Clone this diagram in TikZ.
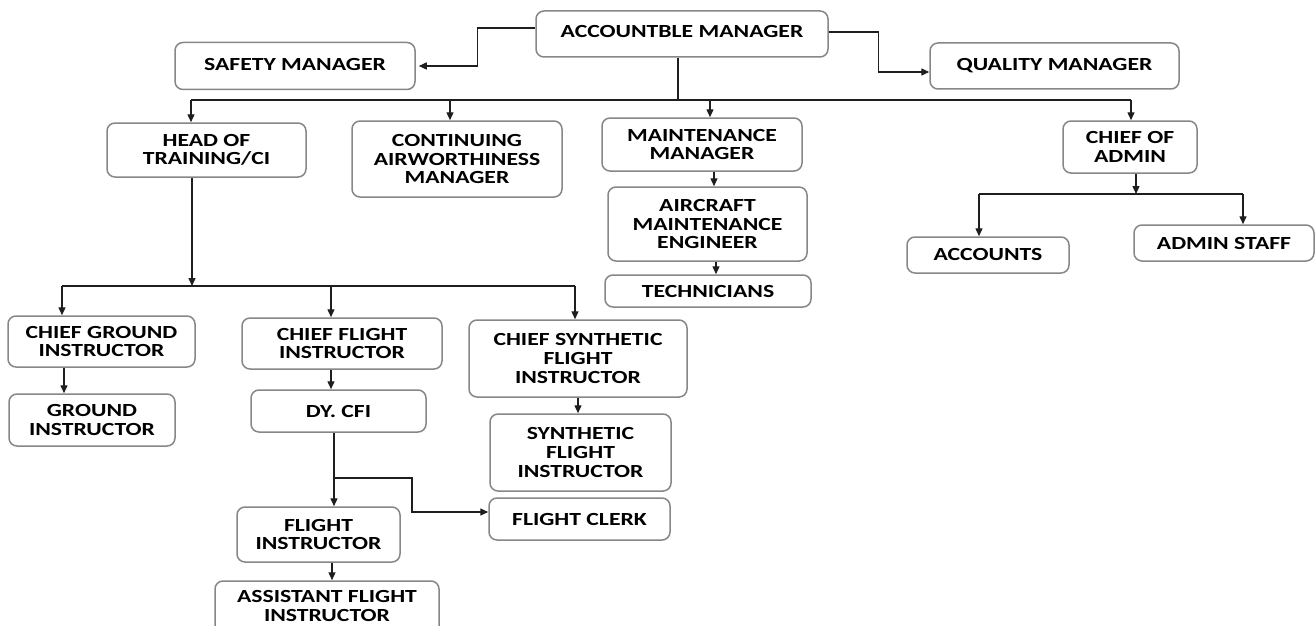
\documentclass[tikz,border=0pt]{standalone}
\usepackage{fontspec}
\newfontfamily\bfont{Carlito}[FakeStretch=1.28]
\usetikzlibrary{arrows.meta}
\definecolor{boxgray}{RGB}{135,135,135}
\definecolor{linecol}{RGB}{30,30,30}
\tikzset{
  box/.style={draw=boxgray, line width=1.5pt, rounded corners=8pt, fill=white,
    align=center, inner sep=0pt,
    font=\bfont\bfseries\fontsize{18.5}{18.7}\selectfont},
  arr/.style={draw=linecol, line width=1.4pt, -{Triangle[length=8pt,width=7pt]}},
  ln/.style={draw=linecol, line width=1.4pt},
}
\begin{document}
\begin{tikzpicture}[x=1pt,y=-1pt]
\useasboundingbox (0,0) rectangle (1315,626);
\clip (0,0) rectangle (1315,626);
\fill[white] (0,0) rectangle (1315,626);

% top level
\node[box, minimum width=292pt, minimum height=46pt] (acc) at (682,34) {\raisebox{5pt}{ACCOUNTBLE MANAGER}};
\node[box, minimum width=240pt, minimum height=47pt] (saf) at (295,66) {\raisebox{3pt}{SAFETY MANAGER}};
\node[box, minimum width=249pt, minimum height=46pt] (qua) at (1054.5,66) {\raisebox{2pt}{QUALITY MANAGER}};

% second level
\node[box, minimum width=199pt, minimum height=54pt] (hot) at (206.5,150) {HEAD OF\\TRAINING/CI};
\node[box, minimum width=210pt, minimum height=76pt] (caw) at (457,159) {CONTINUING\\AIRWORTHINESS\\MANAGER};
\node[box, minimum width=200pt, minimum height=53pt] (mm) at (702,144.5) {MAINTENANCE\\MANAGER};
\node[box, minimum width=199pt, minimum height=74pt] (ame) at (707.5,224) {AIRCRAFT\\MAINTENANCE\\ENGINEER};
\node[box, minimum width=206pt, minimum height=32pt] (tech) at (708,291) {TECHNICIANS};
\node[box, minimum width=134pt, minimum height=52pt] (coa) at (1130,147) {CHIEF OF\\ADMIN};
\node[box, minimum width=162pt, minimum height=36pt] (accs) at (988,255) {ACCOUNTS};
\node[box, minimum width=180pt, minimum height=36pt] (ads) at (1224,243) {ADMIN STAFF};

% training branch
\node[box, minimum width=187pt, minimum height=51pt] (cgi) at (101.5,341.5) {CHIEF GROUND\\INSTRUCTOR};
\node[box, minimum width=166pt, minimum height=52pt] (gi) at (92,420) {GROUND\\INSTRUCTOR};
\node[box, minimum width=200pt, minimum height=51pt] (cfi) at (342,343.5) {CHIEF FLIGHT\\INSTRUCTOR};
\node[box, minimum width=175pt, minimum height=42pt] (dy) at (338.5,411) {DY. CFI};
\node[box, minimum width=218pt, minimum height=77pt] (csfi) at (578,358.5) {CHIEF SYNTHETIC\\FLIGHT\\INSTRUCTOR};
\node[box, minimum width=181pt, minimum height=77pt] (sfi) at (580.5,452.5) {SYNTHETIC\\FLIGHT\\INSTRUCTOR};
\node[box, minimum width=181pt, minimum height=42pt] (fc) at (579.5,519) {FLIGHT CLERK};
\node[box, minimum width=163pt, minimum height=55pt] (fi) at (318.5,534.5) {FLIGHT\\INSTRUCTOR};
\node[box, minimum width=224pt, minimum height=64pt, text depth=14pt] (afi) at (327,613) {ASSISTANT FLIGHT\\INSTRUCTOR};

% coordinates for buses
\coordinate (top) at (678,100);
\coordinate (d1) at (191,100);
\coordinate (d2) at (450,100);
\coordinate (d3) at (710,100);
\coordinate (d4) at (1131,100);
\coordinate (h2) at (192,286);
\coordinate (e1) at (62,286);
\coordinate (e2) at (331,286);
\coordinate (e3) at (575,286);
\coordinate (c1) at (1136,194);
\coordinate (f1) at (979,194);
\coordinate (f2) at (1243,194);
\coordinate (j1) at (334,478);

% top connectors
\draw[arr, shorten >=3pt] ([yshift=6pt]acc.west) -- ++(-58,0) |- (saf.east);
\draw[arr] ([yshift=2pt]acc.east) -- ++(50,0) |- ([yshift=-6pt]qua.west);
\draw[ln] (acc.south -| top) -- (top);
\draw[ln] (d1) -- (d4);
\draw[arr] (d1) -- (d1 |- hot.north);
\draw[arr] (d2) -- (d2 |- caw.north);
\draw[arr] (d3) -- (d3 |- mm.north);
\draw[arr] (d4) -- (d4 |- coa.north);

% maintenance chain
\draw[arr] (mm.south -| 714,0) -- (ame.north -| 714,0);
\draw[arr] (ame.south -| 716,0) -- (tech.north -| 716,0);

% admin
\draw[arr] (coa.south -| c1) -- (c1);
\draw[ln] (f1) -- (f2);
\draw[arr] (f1) -- (f1 |- accs.north);
\draw[arr] (f2) -- (f2 |- ads.north);

% training
\draw[arr] (hot.south -| h2) -- (h2);
\draw[ln] (e1) -- (e3);
\draw[arr] (e1) -- (e1 |- cgi.north);
\draw[arr] (e2) -- (e2 |- cfi.north);
\draw[arr] (e3) -- (e3 |- csfi.north);
\draw[arr] (cgi.south -| 64,0) -- (gi.north -| 64,0);
\draw[arr] (cfi.south -| 331,0) -- (dy.north -| 331,0);
\draw[arr] (csfi.south -| 578,0) -- (sfi.north -| 578,0);
\draw[arr] (dy.south -| j1) -- (fi.north -| j1);
\draw[arr] (j1) -- ++(78,0) |- ([yshift=7pt]fc.west);
\draw[arr] (fi.south -| 332,0) -- (afi.north -| 332,0);
\end{tikzpicture}
\end{document}
